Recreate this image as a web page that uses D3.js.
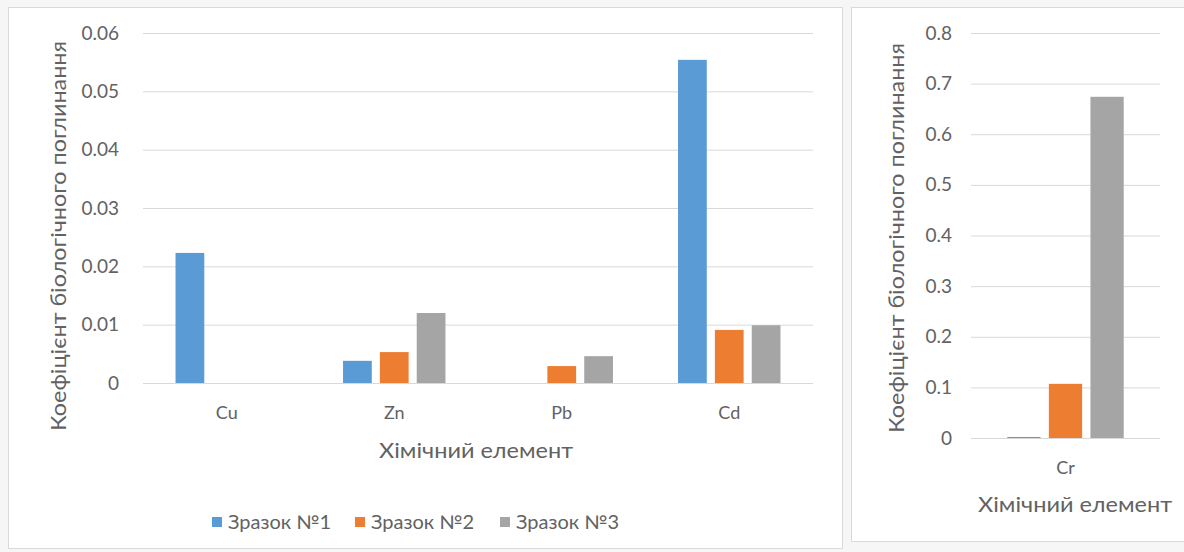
<!DOCTYPE html>
<html>
<head>
<meta charset="utf-8">
<script src="https://cdn.jsdelivr.net/npm/d3@7"></script>
<style>
  html, body { margin: 0; padding: 0; background: #ffffff; }
  svg { display: block; font-family: Lato, "Open Sans", sans-serif; }
</style>
</head>
<body>
<svg id="chart" width="1184" height="552"></svg>
<script>
// Elements shown in the main panel and in the separate chromium panel
const categories = ["Cu", "Zn", "Pb", "Cd"];
const crCategories = ["Cr"];
const seriesNames = ["Зразок №1", "Зразок №2", "Зразок №3"];
const seriesColors = ["#5b9bd5", "#ed7d31", "#a5a5a5"];

// Coefficient of biological absorption per sample
const sample1 = [0.0223, 0.0038, 0, 0.0554];
const sample2 = [0, 0.0053, 0.0029, 0.0091];
const sample3 = [0, 0.0120, 0.0046, 0.0099];

const crSample1 = [0.002];
const crSample2 = [0.107];
const crSample3 = [0.674];

const leftTicks = [0, 0.01, 0.02, 0.03, 0.04, 0.05, 0.06];
const rightTicks = [0, 0.1, 0.2, 0.3, 0.4, 0.5, 0.6, 0.7, 0.8];

const yTitle = "Коефіцієнт біологічного поглинання";
const xTitle = "Хімічний елемент";

const svg = d3.select("#chart");
const textColor = "#626262";
const gridColor = "#d9d9d9";

// panel frames
svg.append("rect").attr("x", 0).attr("y", 0).attr("width", 1184).attr("height", 552).attr("fill", "#f6f6f6");
svg.append("rect").attr("x", 8.5).attr("y", 7.5).attr("width", 834).attr("height", 541)
  .attr("fill", "#fff").attr("stroke", gridColor);
svg.append("rect").attr("x", 851.5).attr("y", 7.5).attr("width", 340).attr("height", 534)
  .attr("fill", "#fff").attr("stroke", gridColor);

function drawPanel(opts) {
  const { cats, values, ticks, yMax, x0r, y0, y1, tickX, fmt, catLabelY, xTitleX, xTitleY, yTitleX, yTitleY, pInner, pOuter, subInner, subOuter } = opts;
  const g = svg.append("g");
  const y = d3.scaleLinear().domain([0, yMax]).range([y0, y1]);
  const x0 = d3.scaleBand().domain(cats).range(x0r).paddingInner(pInner).paddingOuter(pOuter);
  const x1 = d3.scaleBand().domain(d3.range(values.length)).range([0, x0.bandwidth()])
    .paddingInner(subInner).paddingOuter(subOuter);

  // gridlines and value labels
  const yAxis = d3.axisLeft(y).tickValues(ticks).tickSize(-(x0r[1] - x0r[0])).tickFormat(fmt);
  const ax = g.append("g").attr("transform", `translate(${x0r[0]},0)`).call(yAxis);
  ax.select(".domain").remove();
  ax.selectAll(".tick line").attr("stroke", gridColor).attr("stroke-width", 1);
  ax.selectAll(".tick text").attr("x", -(x0r[0] - tickX)).attr("fill", textColor)
    .attr("font-size", 19).attr("font-family", "Lato, sans-serif");

  // bars
  cats.forEach((c, ci) => {
    values.forEach((arr, si) => {
      const v = arr[ci];
      if (v <= 0) return;
      g.append("rect")
        .attr("x", x0(c) + x1(si))
        .attr("y", y(v))
        .attr("width", x1.bandwidth())
        .attr("height", y(0) - y(v))
        .attr("fill", seriesColors[si]);
    });
  });

  // category axis
  const xAxis = d3.axisBottom(x0).tickSize(0).tickPadding(0);
  const xa = g.append("g").attr("transform", `translate(0,${catLabelY})`).call(xAxis);
  xa.select(".domain").remove();
  xa.selectAll(".tick text").attr("fill", textColor).attr("font-size", 18)
    .attr("font-family", "Lato, sans-serif").attr("dy", 0);

  g.append("text").attr("x", xTitleX).attr("y", xTitleY).attr("text-anchor", "middle")
    .attr("fill", textColor).attr("font-size", 21)
    .attr("textLength", 194).attr("lengthAdjust", "spacingAndGlyphs").text(xTitle);

  g.append("text").attr("transform", `translate(${yTitleX},${yTitleY}) rotate(-90)`)
    .attr("text-anchor", "middle").attr("fill", textColor).attr("font-size", 21)
    .attr("textLength", 390).attr("lengthAdjust", "spacingAndGlyphs").text(yTitle);
}

drawPanel({
  cats: categories, values: [sample1, sample2, sample3], ticks: leftTicks, yMax: 0.06,
  x0r: [143, 813], y0: 383, y1: 33, tickX: 119,
  fmt: d => d === 0 ? "0" : d3.format(".2f")(d),
  catLabelY: 419, xTitleX: 476, xTitleY: 458, yTitleX: 66, yTitleY: 236,
  pInner: 0.34, pOuter: 0.17, subInner: 0.22, subOuter: 0.11
});

drawPanel({
  cats: crCategories, values: [crSample1, crSample2, crSample3], ticks: rightTicks, yMax: 0.8,
  x0r: [971, 1160], y0: 438, y1: 33, tickX: 952,
  fmt: d => d === 0 ? "0" : d3.format(".1f")(d),
  catLabelY: 474, xTitleX: 1075, xTitleY: 512, yTitleX: 904, yTitleY: 238,
  pInner: 0.34, pOuter: 0.17, subInner: 0.2, subOuter: 0.1
});

// legend
const legend = svg.append("g").attr("transform", "translate(212,522)");
const legendX = [0, 143, 288];
seriesNames.forEach((name, i) => {
  const lg = legend.append("g").attr("transform", `translate(${legendX[i]},0)`);
  lg.append("rect").attr("x", 0).attr("y", -5).attr("width", 10).attr("height", 10).attr("fill", seriesColors[i]);
  lg.append("text").attr("x", 16).attr("y", 7).attr("fill", textColor).attr("font-size", 19)
    .attr("textLength", 103).attr("lengthAdjust", "spacingAndGlyphs").text(name);
});
</script>
</body>
</html>
